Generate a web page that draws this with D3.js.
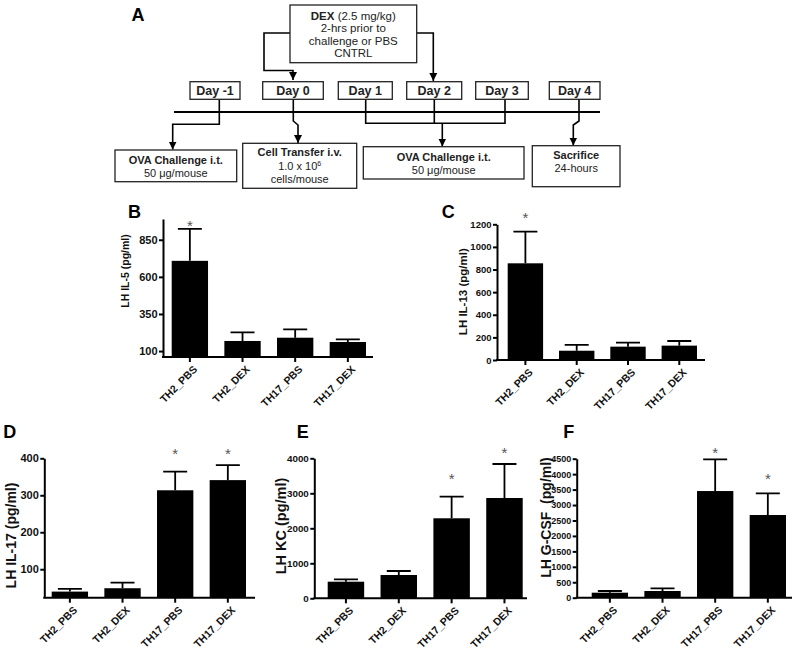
<!DOCTYPE html>
<html>
<head>
<meta charset="utf-8">
<script src="https://cdn.jsdelivr.net/npm/d3@7"></script>
<style>
body { margin: 0; background: #fff; }
text { font-family: "Liberation Sans", Arial, sans-serif; }
</style>
</head>
<body>
<script>
const width = 800;
const height = 653;

// groups on every bar panel
const groups = ["TH2_PBS", "TH2_DEX", "TH17_PBS", "TH17_DEX"];

// means and error (upper SEM)
const il5Mean = [708, 168, 190, 161];
const il5Sem = [216, 58, 56, 18];
const il13Mean = [855, 82, 118, 127];
const il13Sem = [280, 51, 35, 41];
const il17Mean = [39.5, 48.6, 313.5, 341];
const il17Sem = [7.3, 15.4, 50.3, 40.8];
const kcMean = [474, 666, 2286, 2866];
const kcSem = [69, 114, 617, 971];
const gcsfMean = [162, 217, 3453, 2677];
const gcsfSem = [55, 87, 1025, 703];

// significance marks
const il5Sig = [1, 0, 0, 0];
const il13Sig = [1, 0, 0, 0];
const il17Sig = [0, 0, 1, 1];
const kcSig = [0, 0, 1, 1];
const gcsfSig = [0, 0, 1, 1];

// y tick labels
const il5Ticks = [100, 350, 600, 850];
const il13Ticks = [0, 200, 400, 600, 800, 1000, 1200];
const il17Ticks = [100, 200, 300, 400];
const kcTicks = [0, 1000, 2000, 3000, 4000];
const gcsfTicks = [0, 500, 1000, 1500, 2000, 2500, 3000, 3500, 4000, 4500];

// timeline labels
const days = ["Day -1", "Day 0", "Day 1", "Day 2", "Day 3", "Day 4"];

let svg = d3.select("body")
    .append("svg")
    .attr("width", width)
    .attr("height", height);

svg.append("defs").append("marker")
    .attr("id", "arrow")
    .attr("markerUnits", "userSpaceOnUse")
    .attr("markerWidth", 9)
    .attr("markerHeight", 9)
    .attr("refX", 8)
    .attr("refY", 4)
    .attr("orient", "auto")
    .append("path")
    .attr("d", "M0,0L8,4L0,8Z")
    .attr("fill", "#000");

// ---------- panel A: protocol diagram ----------
const a = svg.append("g");

a.append("text").attr("x", 131.5).attr("y", 20.5)
    .attr("font-size", 18).attr("font-weight", "bold").text("A");

function box(x0, y0, x1, y1) {
    a.append("rect")
        .attr("x", x0).attr("y", y0)
        .attr("width", x1 - x0).attr("height", y1 - y0)
        .attr("fill", "#fff").attr("stroke", "#222").attr("stroke-width", 1.3);
}

function line(x, y, txt, size, bold) {
    return a.append("text").attr("x", x).attr("y", y)
        .attr("text-anchor", "middle")
        .attr("font-size", size)
        .attr("font-weight", bold ? "bold" : "normal")
        .attr("fill", "#222")
        .text(txt);
}

// connectors
const conn = [
    ["M290,33H264V70.5H293V80", true],
    ["M416.7,33H433.3V81", true],
    ["M219.3,99.3V124.3H172.7V149.5", true],
    ["M293.3,99.3V121L298,125V143", true],
    ["M365.7,99.3V123.3H505V99.3", false],
    ["M434.3,99.3V123.3", false],
    ["M442.3,123.3V146.5", true],
    ["M579,99.3V121L573.3,125V145.5", true]
];
conn.forEach(function(c) {
    a.append("path").attr("d", c[0])
        .attr("fill", "none").attr("stroke", "#000").attr("stroke-width", 1.6)
        .attr("marker-end", c[1] ? "url(#arrow)" : null);
});
a.append("line").attr("x1", 174).attr("x2", 600).attr("y1", 112).attr("y2", 112)
    .attr("stroke", "#000").attr("stroke-width", 2.2);

// DEX box
box(290, 5, 416.7, 62.7);
const dexT = a.append("text").attr("x", 353.3).attr("y", 20)
    .attr("text-anchor", "middle").attr("font-size", 11.5).attr("fill", "#222");
dexT.append("tspan").attr("font-weight", "bold").text("DEX");
dexT.append("tspan").text(" (2.5 mg/kg)");
line(353.3, 32, "2-hrs prior to", 11.5, false);
line(353.3, 44.5, "challenge or PBS", 11.5, false);
line(353.3, 56.5, "CNTRL", 11.5, false);

// day boxes
const dayBoxes = [[190, 240], [262.7, 323.3], [338.3, 392.3], [406.7, 461.7], [475.7, 528.3], [549.3, 600]];
days.forEach(function(d, i) {
    box(dayBoxes[i][0], 81.7, dayBoxes[i][1], 99.3);
    line((dayBoxes[i][0] + dayBoxes[i][1]) / 2, 95, d, 12.5, true);
});

// event boxes
box(115, 150, 236.7, 181.7);
line(175.8, 163.5, "OVA Challenge i.t.", 11, true);
line(175.8, 176.5, "50 \u03bcg/mouse", 11, false);

box(242.7, 143.3, 356.7, 188.3);
line(299.7, 156, "Cell Transfer i.v.", 11, true);
const sci = line(299.7, 169.5, "1.0 x 10", 11, false);
sci.append("tspan").attr("font-size", 7).attr("dy", -4).text("6");
line(299.7, 183, "cells/mouse", 11, false);

box(363.3, 146.7, 524, 179);
line(443.7, 160.7, "OVA Challenge i.t.", 11, true);
line(443.7, 174, "50 \u03bcg/mouse", 11, false);

box(532.3, 145.7, 620, 186.7);
line(576.2, 159.3, "Sacrifice", 11, true);
line(576.2, 172.3, "24-hours", 11, false);

// ---------- bar panels ----------
const panels = [
    { letter: "B", lx: 128, ly: 218.3, title: "LH IL-5 (pg/ml)", tx: 125, ty: 271, tfs: 10.5, kfs: 11,
      mean: il5Mean, sem: il5Sem, sig: il5Sig, ticks: il5Ticks,
      domain: [60, 990], yr: [357, 219], axis: [163, 373], bars: [171.7, 366], gap: [6, 0, 0, 0] },
    { letter: "C", lx: 441.7, ly: 218.3, title: "LH IL-13 (pg/ml)", tx: 462.5, ty: 291.7, tfs: 11.5, kfs: 9.5,
      mean: il13Mean, sem: il13Sem, sig: il13Sig, ticks: il13Ticks,
      domain: [0, 1200], yr: [360, 224.3], axis: [497, 705], bars: [507.7, 697], gap: [17, 0, 0, 0] },
    { letter: "D", lx: 3.3, ly: 438.3, title: "LH IL-17 (pg/ml)", tx: 10.5, ty: 535.5, tfs: 14, kfs: 11,
      mean: il17Mean, sem: il17Sem, sig: il17Sig, ticks: il17Ticks,
      domain: [23, 400], yr: [597.7, 458.3], axis: [44.3, 255], bars: [51.7, 246], gap: [0, 0, 21, 14] },
    { letter: "E", lx: 296.7, ly: 438.3, title: "LH KC (pg/ml)", tx: 281, ty: 526, tfs: 14.5, kfs: 9.8,
      mean: kcMean, sem: kcSem, sig: kcSig, ticks: kcTicks,
      domain: [0, 4000], yr: [598.3, 458.3], axis: [314.3, 527], bars: [327.7, 522.7], gap: [0, 0, 21, 14] },
    { letter: "F", lx: 563.3, ly: 438.3, title: "LH G-CSF  (pg/ml)", tx: 546, ty: 517.5, tfs: 14, kfs: 9,
      mean: gcsfMean, sem: gcsfSem, sig: gcsfSig, ticks: gcsfTicks,
      domain: [0, 4500], yr: [597.7, 458.7], axis: [576.7, 792], bars: [591.7, 786], gap: [0, 0, 9.3, 17.6] }
];

panels.forEach(function(p) {
    const g = svg.append("g");
    const rows = groups.map(function(name, i) {
        return { name: name, mean: p.mean[i], sem: p.sem[i], sig: p.sig[i], gap: p.gap[i] };
    });

    const xScale = d3.scaleBand()
        .domain(groups)
        .range(p.bars)
        .paddingInner(0.31)
        .paddingOuter(0);

    const yScale = d3.scaleLinear()
        .domain(p.domain)
        .range(p.yr);

    const base = p.yr[0];
    const bw = xScale.bandwidth();

    g.append("text").attr("x", p.lx).attr("y", p.ly)
        .attr("font-size", 18).attr("font-weight", "bold").text(p.letter);

    g.append("text")
        .attr("transform", "translate(" + p.tx + "," + p.ty + ") rotate(-90)")
        .attr("text-anchor", "middle")
        .attr("dominant-baseline", "central")
        .attr("font-size", p.tfs)
        .attr("font-weight", "bold")
        .attr("fill", "#111")
        .style("white-space", "pre")
        .text(p.title);

    // bars
    g.selectAll("rect.bar")
        .data(rows)
        .enter()
        .append("rect")
        .attr("class", "bar")
        .attr("x", function(d) { return xScale(d.name); })
        .attr("y", function(d) { return yScale(d.mean); })
        .attr("width", bw)
        .attr("height", function(d) { return base - yScale(d.mean); })
        .attr("fill", "#000");

    // error bars
    g.selectAll("path.err")
        .data(rows)
        .enter()
        .append("path")
        .attr("class", "err")
        .attr("d", function(d) {
            const cx = xScale(d.name) + bw / 2;
            const top = yScale(d.mean + d.sem);
            return "M" + cx + "," + yScale(d.mean) + "V" + top +
                "M" + (cx - 12) + "," + top + "H" + (cx + 12);
        })
        .attr("fill", "none")
        .attr("stroke", "#000")
        .attr("stroke-width", 1.8);

    // asterisks
    g.selectAll("text.sig")
        .data(rows.filter(function(d) { return d.sig; }))
        .enter()
        .append("text")
        .attr("class", "sig")
        .attr("x", function(d) { return xScale(d.name) + bw / 2; })
        .attr("y", function(d) { return yScale(d.mean + d.sem) - d.gap + 8; })
        .attr("text-anchor", "middle")
        .attr("font-size", 15)
        .attr("fill", "#555")
        .text("*");

    // y axis
    const yAxis = d3.axisLeft(yScale)
        .tickValues(p.ticks)
        .tickFormat(d3.format("d"))
        .tickSize(4)
        .tickSizeOuter(0)
        .tickPadding(1.5);
    const ya = g.append("g")
        .attr("transform", "translate(" + p.axis[0] + ",0)")
        .call(yAxis);
    ya.selectAll("path,line").attr("stroke", "#000").attr("stroke-width", 2);
    ya.selectAll("text")
        .attr("font-size", p.kfs)
        .attr("font-weight", "bold")
        .attr("fill", "#111")
        .style("font-family", "'Liberation Sans', Arial, sans-serif");

    // x axis
    g.append("line")
        .attr("x1", p.axis[0] - 1).attr("x2", p.axis[1])
        .attr("y1", base).attr("y2", base)
        .attr("stroke", "#000").attr("stroke-width", 2);

    const xAxis = d3.axisBottom(xScale).tickSize(5).tickSizeOuter(0);
    const xa = g.append("g")
        .attr("transform", "translate(0," + base + ")")
        .call(xAxis);
    xa.select(".domain").remove();
    xa.selectAll("line").attr("stroke", "#000").attr("stroke-width", 2);
    xa.selectAll("text")
        .attr("font-size", 10.5)
        .attr("font-weight", "bold")
        .attr("fill", "#111")
        .style("font-family", "'Liberation Sans', Arial, sans-serif")
        .attr("text-anchor", "end")
        .attr("dy", null)
        .attr("y", 0)
        .attr("transform", "translate(8,13) rotate(-45)");
});
</script>
</body>
</html>
